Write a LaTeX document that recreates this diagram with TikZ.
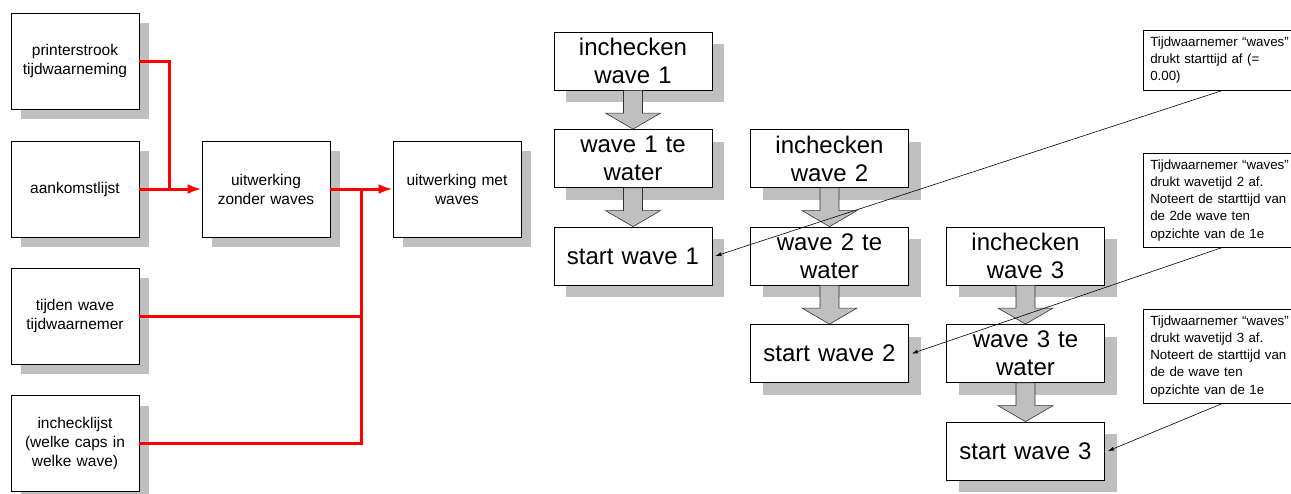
\documentclass[tikz,border=0pt]{standalone}
\usepackage{fontspec}
\setmainfont{Liberation Sans}
\usetikzlibrary{shadows,calc,arrows.meta}

% gray block arrow from one box down to the next
\newcommand\blockdown[2]{%
  \draw[blockarrow] ($(#1.south)+(-9.5,0)$) -- ($(#2.north)+(-9.5,-16)$)
    -- ($(#2.north)+(-27.5,-16)$) -- (#2.north) -- ($(#2.north)+(27.5,-16)$)
    -- ($(#2.north)+(9.5,-16)$) -- ($(#1.south)+(9.5,0)$) -- cycle;}

\begin{document}
\begin{tikzpicture}[
        x=1pt, y=-1pt,
        every node/.style={draw, fill=white, line width=0.8pt, inner sep=0pt, align=center},
        srcbox/.style={minimum width=128pt, minimum height=96pt, text width=124pt,
            font=\fontsize{15.5}{19}\selectfont,
            drop shadow={shadow xshift=10pt, shadow yshift=-10pt, fill=gray!50, opacity=1}},
        wavebox/.style={minimum width=158pt, minimum height=58pt, text width=154pt,
            font=\fontsize{24}{28}\selectfont,
            drop shadow={shadow xshift=12pt, shadow yshift=-12pt, fill=gray!50, opacity=1}},
        callout/.style={anchor=north west, align=left, text width=150pt,
            inner xsep=7pt, inner ysep=3pt, line width=0.6pt,
            font=\fontsize{13.3}{17.2}\selectfont},
        redline/.style={draw=red, line width=3pt},
        redarrow/.style={redline, -{Latex[length=14pt,width=10pt]}},
        blockarrow/.style={fill=gray!50, draw=black!80, line width=0.6pt},
        callarrow/.style={draw, line width=0.6pt, -{Latex[length=6pt,width=4pt]}}
    ]
 \useasboundingbox (0,0) rectangle (1291,493);

 % input lists
 \node[srcbox] (printer) at (75,61) {printerstrook\\tijdwaarneming};
 \node[srcbox] (aankomst) at (75,189) {aankomstlijst};
 \node[srcbox] (tijden) at (75,316) {tijden wave\\tijdwaarnemer};
 \node[srcbox] (incheck) at (75,443.5) {inchecklijst\\(welke caps in\\welke wave)};
 \node[srcbox] (zonder) at (266,189) {uitwerking\\zonder waves};
 \node[srcbox] (met) at (457,189) {uitwerking met\\waves};

 \coordinate (j1) at ($(aankomst.east)+(30,0)$);
 \coordinate (j2) at ($(zonder.east)+(31,0)$);
 \draw[redline] (printer.east) -| (j1);
 \draw[redline] (tijden.east) -| (j2);
 \draw[redline] (incheck.east) -| (j2);
 \draw[redarrow] (aankomst.east) -- (zonder.west);
 \draw[redarrow] (zonder.east) -- (met.west);

 % waves
 \node[wavebox] (in1) at (633,61) {inchecken\\wave 1};
 \node[wavebox] (wa1) at (633,158.5) {wave 1 te\\water};
 \node[wavebox] (st1) at (633,256) {start wave 1};
 \node[wavebox] (in2) at (829.5,158.5) {inchecken\\wave 2};
 \node[wavebox] (wa2) at (829.5,256) {wave 2 te\\water};
 \node[wavebox] (st2) at (829.5,353.5) {start wave 2};
 \node[wavebox] (in3) at (1025.5,256) {inchecken\\wave 3};
 \node[wavebox] (wa3) at (1025.5,353.5) {wave 3 te\\water};
 \node[wavebox] (st3) at (1025.5,451) {start wave 3};

 \blockdown{in1}{wa1}
 \blockdown{wa1}{st1}
 \blockdown{in2}{wa2}
 \blockdown{wa2}{st2}
 \blockdown{in3}{wa3}
 \blockdown{wa3}{st3}

 % notes
 \node[callout, minimum height=60pt] (c1) at (1143,30)
   {Tijdwaarnemer “waves”\\drukt starttijd af (=\\0.00)};
 \node[callout, minimum height=94pt] (c2) at (1143,153)
   {Tijdwaarnemer “waves”\\drukt wavetijd 2 af.\\Noteert de starttijd van\\de 2de wave ten\\opzichte van de 1e};
 \node[callout, minimum height=94pt] (c3) at (1143,309)
   {Tijdwaarnemer “waves”\\drukt wavetijd 3 af.\\Noteert de starttijd van\\de de wave ten\\opzichte van de 1e};

 \draw[callarrow] ($(c1.south west)+(79,0)$) -- ([xshift=3pt]st1.east);
 \draw[callarrow] ($(c2.south west)+(79,0)$) -- ([xshift=3pt]st2.east);
 \draw[callarrow] ($(c3.south west)+(79,0)$) -- ([xshift=3pt]st3.east);
\end{tikzpicture}
\end{document}
